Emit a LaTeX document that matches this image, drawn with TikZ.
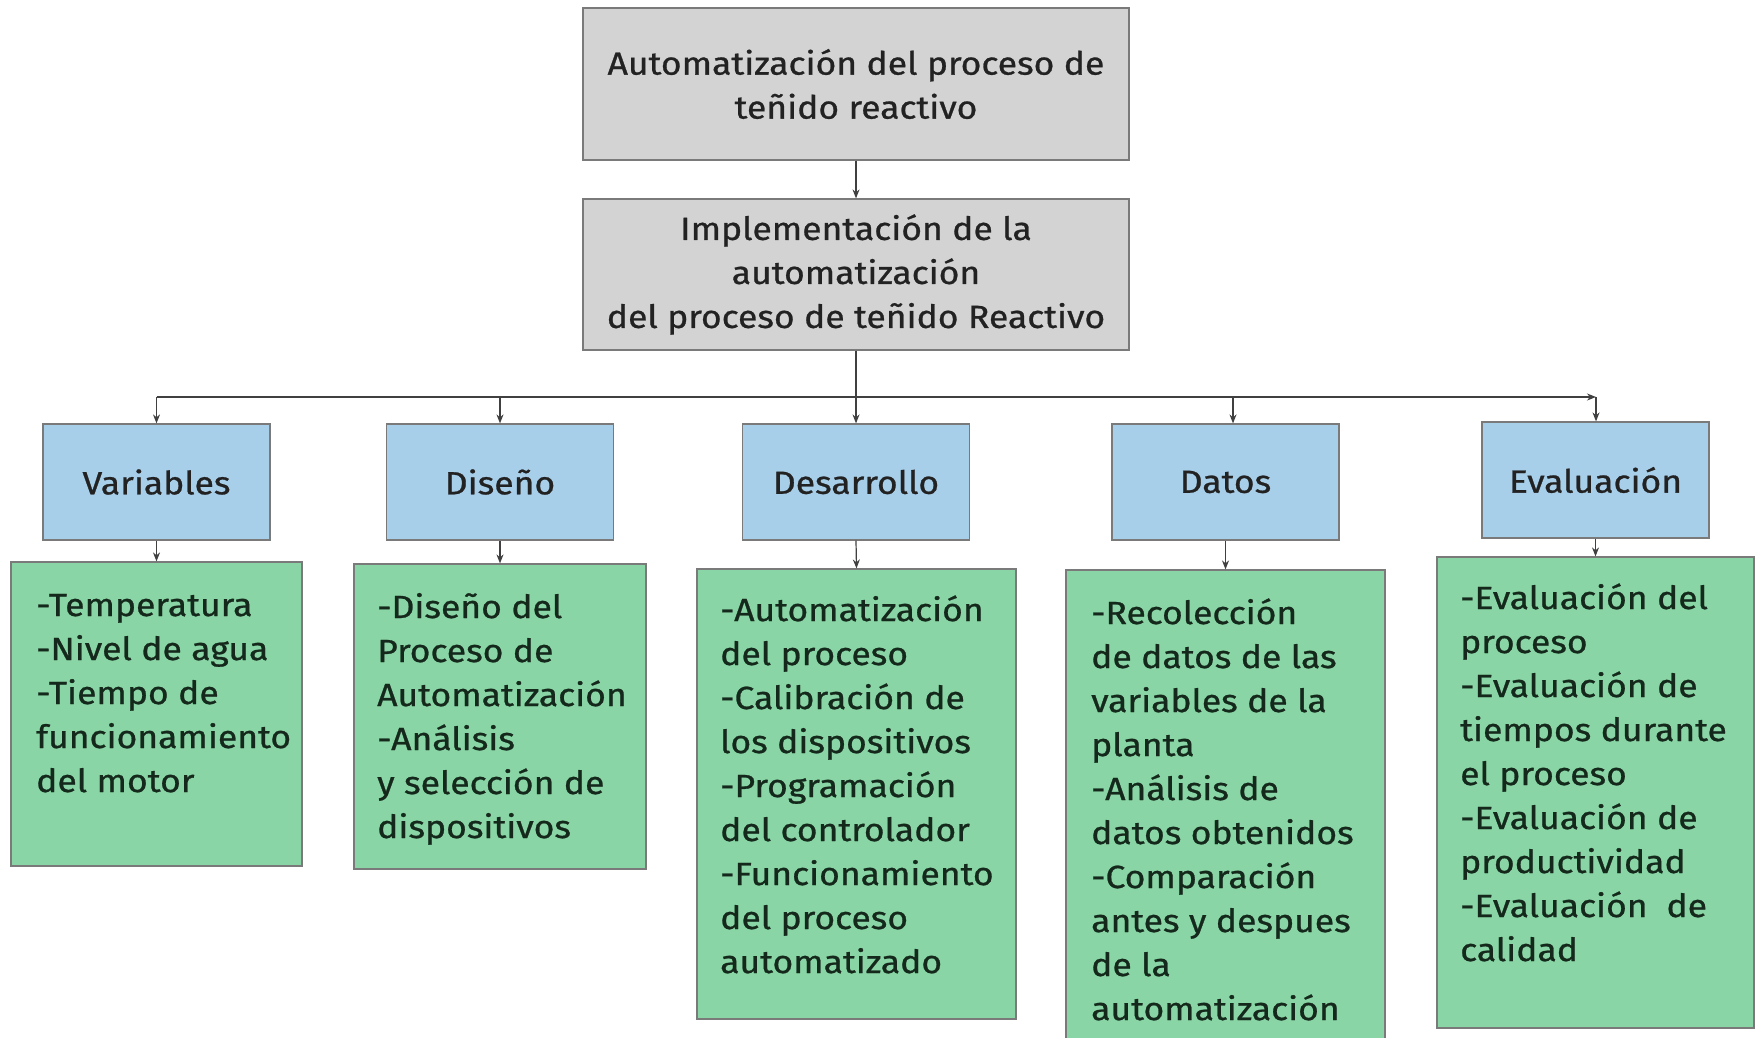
\documentclass[tikz,border=0pt]{standalone}
\usepackage{fontspec}
\setmainfont{Fira Sans}[FakeStretch=1.11, FakeBold=0.8]
\usetikzlibrary{arrows.meta}
\definecolor{grayfill}{HTML}{D3D3D4}
\definecolor{bluefill}{HTML}{A8CFEA}
\definecolor{greenfill}{HTML}{89D5A5}
\definecolor{edgegray}{HTML}{7A7A7A}
\definecolor{txtdark}{HTML}{222222}
\definecolor{txtgreen}{HTML}{14281B}
\newcommand{\boxfont}{\fontsize{32}{44}\selectfont}
\tikzset{
  topbox/.style={draw=edgegray, line width=1.2pt, fill=grayfill, minimum width=546pt, align=center, text=txtdark, font=\boxfont, inner sep=0pt},
  catbox/.style={draw=edgegray, line width=1.2pt, fill=bluefill, minimum width=227pt, minimum height=116pt, text=txtdark, font=\boxfont, inner sep=0pt},
  listbox/.style={draw=edgegray, line width=1.2pt, fill=greenfill, inner sep=0pt},
  listtext/.style={anchor=base west, inner sep=0pt, text=txtgreen, font=\boxfont},
  conn/.style={draw=black!75, line width=1.2pt, -{Stealth[length=9pt,width=7pt]}},
  plain/.style={draw=black!75, line width=1.2pt}
}
\newcommand{\itemlines}[1]{\parbox[t]{320pt}{\raggedright #1}}
\begin{document}
\begin{tikzpicture}[x=1pt,y=-1pt]
\useasboundingbox[fill=white] (0,0) rectangle (1756,1038);
\begin{scope}
\clip (0,0) rectangle (1756,1038);
% top boxes
\node[topbox, minimum height=152pt] (top) at (856,84) {Automatización del proceso de\\teñido reactivo};
\node[topbox, minimum height=151pt] (impl) at (856,274.5) {Implementación de la\\automatización\\del proceso de teñido Reactivo};
% category boxes
\node[catbox] (var) at (156.5,482) {Variables};
\node[catbox] (dis) at (500,482) {Diseño};
\node[catbox] (des) at (856,482) {Desarrollo};
\node[catbox] (dat) at (1225.5,482) {Datos};
\node[catbox] (eva) at (1595.5,480) {Evaluación};
% list boxes
\node[listbox, minimum width=291pt, minimum height=304pt] (lvar) at (156.5,714) {};
\node[listbox, minimum width=292pt, minimum height=305pt] (ldis) at (500,716.5) {};
\node[listbox, minimum width=319pt, minimum height=450pt] (ldes) at (856.5,794) {};
\node[listbox, minimum width=319pt, minimum height=490pt] (ldat) at (1225.5,815) {};
\node[listbox, minimum width=317pt, minimum height=471pt] (leva) at (1595.5,792.5) {};
% list texts
\node[listtext] (tvar) at (36,616) {\itemlines{-Temperatura\\-Nivel de agua\\-Tiempo de\\funcionamiento\\del motor}};
\node[listtext] (tdis) at (377,618) {\itemlines{-Diseño del\\Proceso de\\Automatización\\-Análisis\\y selección de\\dispositivos}};
\node[listtext] (tdes) at (720,621) {\itemlines{-Automatización\\del proceso\\-Calibración de\\los dispositivos\\-Programación\\del controlador\\-Funcionamiento\\del proceso\\automatizado}};
\node[listtext] (tdat) at (1091,624) {\itemlines{-Recolección\\de datos de las\\variables de la\\planta\\-Análisis de\\datos obtenidos\\-Comparación\\antes y despues\\de la\\automatización}};
\node[listtext] (teva) at (1460,609) {\itemlines{-Evaluación del\\proceso\\-Evaluación de\\tiempos durante\\el proceso\\-Evaluación de\\productividad\\-Evaluación~ de\\calidad}};
% connectors
\coordinate (busL) at (156.5,397);
\coordinate (busM) at (856,397);
\coordinate (busD) at (1233,397);
\coordinate (busR) at (1596,397);
\coordinate (busS) at (500,397);
\draw[conn] (top.south) -- (impl.north);
\draw[plain] (impl.south) -- (busM);
\draw[plain] (busL) -- (busM);
\draw[conn] (busM) -- (busR);
\draw[conn] (busL) -- (var.north);
\draw[conn] (busS) -- (dis.north);
\draw[conn] (busM) -- (des.north);
\draw[conn] (busD) -- (busD |- dat.north);
\draw[conn] (busR) -- (busR |- eva.north);
\draw[conn] (var.south) -- (lvar.north);
\draw[conn] (dis.south) -- (ldis.north);
\draw[conn] (des.south) -- (ldes.north);
\draw[conn] (dat.south) -- (ldat.north);
\draw[conn] (eva.south) -- (leva.north);
\end{scope}
\end{tikzpicture}
\end{document}
